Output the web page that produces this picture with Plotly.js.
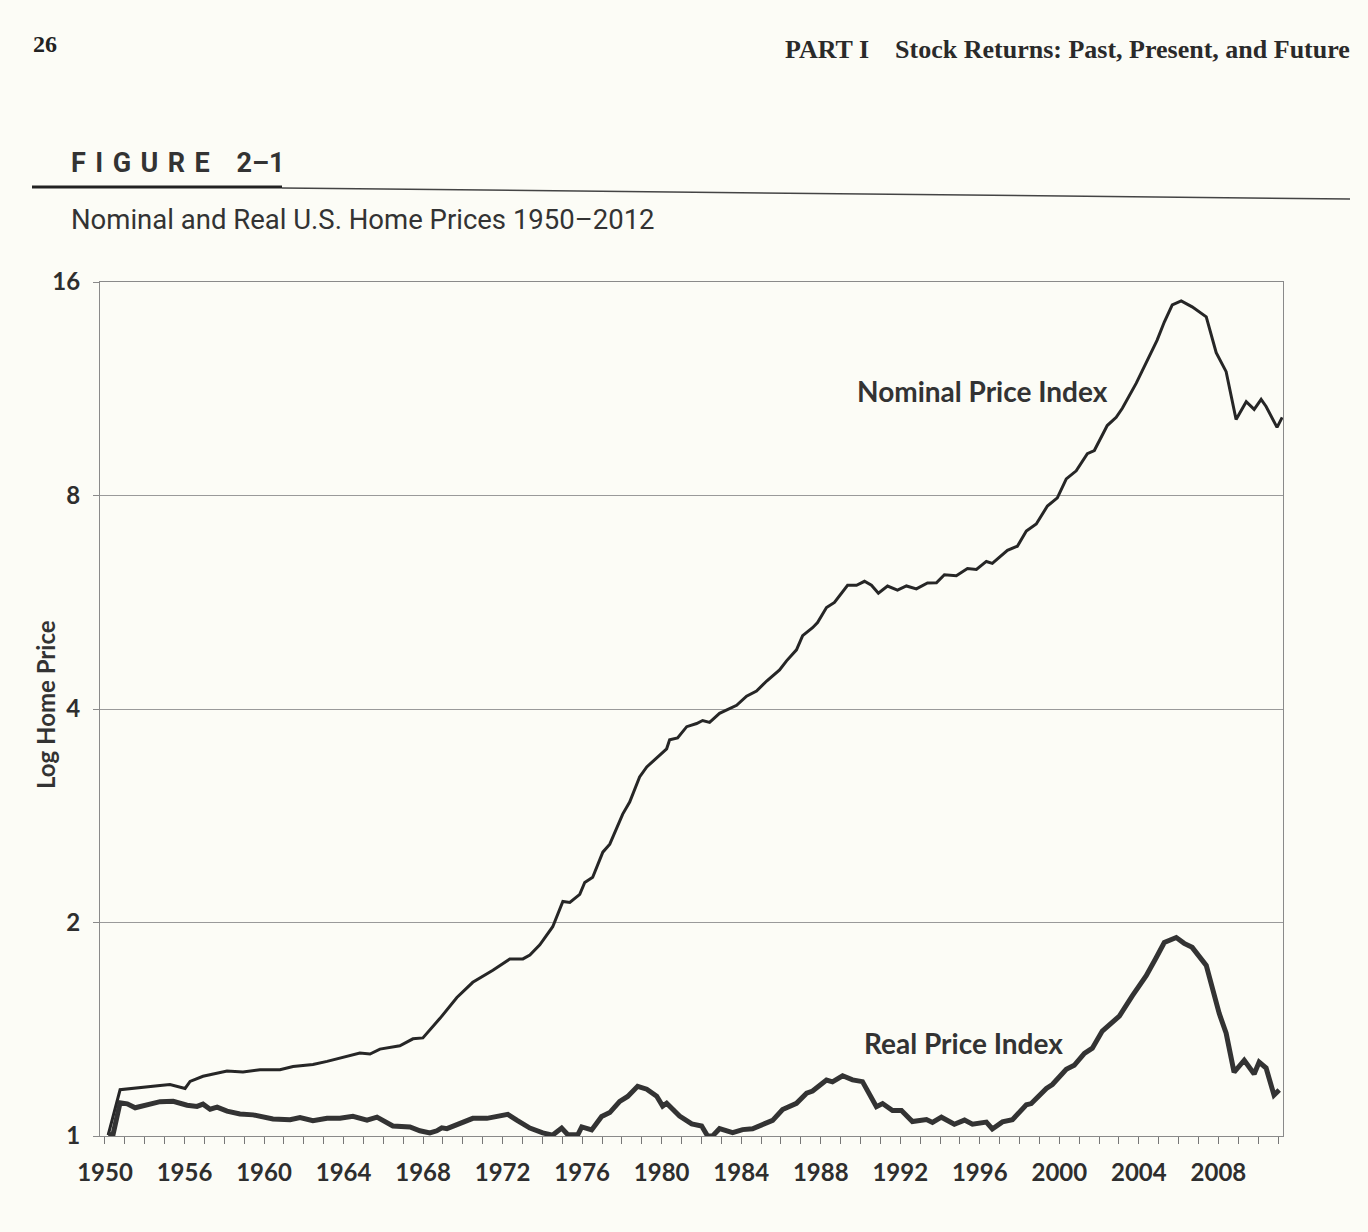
<!DOCTYPE html>
<html>
<head>
<meta charset="utf-8">
<script src="https://cdn.plot.ly/plotly-3.0.1.min.js"></script>
<style>
html,body{margin:0;padding:0;background:#fcfcf6;}
#chart{width:1368px;height:1232px;}
</style>
</head>
<body>
<div id="chart"></div>
<script>
// ---- data ----
const nominalYears = [1952.16,1952.76,1954.77,1955.27,1956.03,1956.28,1956.93,1958.14,1958.94,1959.80,1960.80,1961.46,1962.46,1963.17,1964.82,1965.33,1965.83,1966.83,1967.49,1967.99,1968.84,1969.70,1970.50,1971.51,1972.36,1973.02,1973.37,1973.87,1974.52,1975.03,1975.38,1975.88,1976.13,1976.53,1977.04,1977.39,1978.04,1978.39,1978.89,1979.25,1980.25,1980.40,1980.80,1981.26,1981.76,1982.06,1982.41,1982.91,1983.77,1984.27,1984.77,1985.28,1985.93,1986.28,1986.78,1987.09,1987.59,1987.84,1988.29,1988.69,1989.35,1989.80,1990.20,1990.55,1990.90,1991.36,1991.86,1992.31,1992.81,1993.37,1993.82,1994.22,1994.82,1995.38,1995.83,1996.33,1996.63,1997.39,1997.89,1998.34,1998.84,1999.40,1999.90,2000.35,2000.85,2001.41,2001.76,2002.41,2002.86,2003.17,2003.87,2004.37,2004.92,2005.28,2005.68,2006.13,2006.68,2007.39,2007.89,2008.39,2008.89,2009.40,2009.80,2010.15,2010.40,2010.95,2011.21];
const nominalIndex = [1.003,1.162,1.178,1.182,1.167,1.194,1.214,1.235,1.231,1.240,1.240,1.253,1.261,1.274,1.309,1.305,1.326,1.340,1.371,1.375,1.464,1.568,1.647,1.713,1.776,1.777,1.800,1.860,1.973,2.141,2.134,2.191,2.278,2.316,2.513,2.579,2.844,2.957,3.208,3.314,3.515,3.619,3.642,3.777,3.816,3.853,3.830,3.944,4.048,4.170,4.240,4.380,4.541,4.677,4.847,5.075,5.208,5.295,5.560,5.653,5.976,5.976,6.055,5.978,5.826,5.962,5.885,5.964,5.908,6.024,6.026,6.185,6.167,6.311,6.293,6.458,6.418,6.697,6.785,7.127,7.293,7.732,7.938,8.445,8.668,9.165,9.257,10.04,10.31,10.62,11.52,12.29,13.25,14.05,14.85,15.05,14.76,14.29,12.72,11.96,10.24,10.85,10.58,10.93,10.68,9.98,10.31];

const realYears = [1952.16,1952.41,1952.76,1953.12,1953.52,1954.12,1954.77,1955.43,1956.13,1956.63,1956.93,1957.29,1957.64,1958.14,1958.79,1959.45,1960.45,1961.31,1961.81,1962.46,1963.17,1963.82,1964.47,1965.18,1965.68,1966.48,1967.34,1967.84,1968.34,1968.69,1968.94,1969.20,1969.85,1970.50,1971.21,1971.86,1972.26,1972.71,1973.37,1974.02,1974.52,1974.97,1975.28,1975.78,1975.98,1976.48,1976.98,1977.39,1977.89,1978.29,1978.79,1979.25,1979.75,1980.05,1980.25,1980.90,1981.51,1982.01,1982.31,1982.56,1982.91,1983.57,1984.07,1984.57,1985.58,1986.08,1986.78,1987.29,1987.59,1988.29,1988.59,1989.10,1989.60,1990.10,1990.80,1991.11,1991.61,1992.06,1992.61,1993.32,1993.62,1994.07,1994.72,1995.23,1995.63,1996.33,1996.63,1997.14,1997.64,1998.34,1998.59,1999.35,1999.65,2000.35,2000.75,2001.26,2001.66,2002.16,2002.76,2003.02,2003.67,2004.37,2004.87,2005.28,2005.88,2006.28,2006.68,2007.39,2008.04,2008.39,2008.79,2009.30,2009.80,2010.05,2010.40,2010.80,2011.06];
const realIndex = [1.003,1.006,1.114,1.110,1.096,1.107,1.118,1.119,1.105,1.101,1.109,1.091,1.098,1.084,1.074,1.071,1.057,1.054,1.062,1.051,1.059,1.059,1.066,1.053,1.063,1.033,1.030,1.017,1.010,1.017,1.027,1.024,1.041,1.059,1.059,1.070,1.073,1.053,1.026,1.010,1.003,1.026,1.004,1.004,1.030,1.020,1.065,1.079,1.119,1.137,1.175,1.164,1.138,1.102,1.112,1.067,1.040,1.033,1.000,1.000,1.024,1.011,1.021,1.024,1.052,1.090,1.112,1.149,1.157,1.199,1.192,1.216,1.200,1.193,1.100,1.111,1.086,1.086,1.048,1.055,1.045,1.063,1.039,1.053,1.039,1.046,1.023,1.047,1.054,1.107,1.111,1.167,1.182,1.242,1.258,1.308,1.330,1.406,1.453,1.476,1.576,1.683,1.784,1.874,1.905,1.869,1.845,1.740,1.489,1.396,1.230,1.279,1.223,1.271,1.247,1.142,1.161];

// tick labels as printed on the axis
const xTickVals = [1952,1956,1960,1964,1968,1972,1976,1980,1984,1988,1992,1996,2000,2004,2008];
const xTickText = ["1950","1956","1960","1964","1968","1972","1976","1980","1984","1988","1992","1996","2000","2004","2008"];
const yTickVals = [1,2,4,8,16];
const yTickText = ["1","2","4","8","16"];

// ---- layout helpers (plot area: x 100..1283, y 282..1136) ----
const L = 100, R = 1283, T = 282, B = 1136;
const px = v => (v - L) / (R - L);
const py = v => (B - v) / (B - T);

const sansBold = {family: 'Lato, "Open Sans", sans-serif', size: 24, color: '#2e2e2e', weight: 700};

const traces = [
  {x: nominalYears, y: nominalIndex, type: 'scatter', mode: 'lines',
   line: {color: '#262626', width: 3}, name: 'Nominal Price Index', hoverinfo: 'x+y'},
  {x: realYears, y: realIndex, type: 'scatter', mode: 'lines',
   line: {color: '#333333', width: 5}, name: 'Real Price Index', hoverinfo: 'x+y'}
];

const sp = '\u00A0\u200A';
const figLabel = ['F', 'I', 'G', 'U', 'R', 'E'].join(sp) + '\u00A0\u00A0\u00A0\u00A0' + '2–1';
const layout = {
  width: 1368, height: 1232,
  paper_bgcolor: '#fcfcf6', plot_bgcolor: '#fcfcf6',
  margin: {l: L, r: 1368 - R, t: T, b: 1232 - B},
  showlegend: false,
  xaxis: {
    range: [1951.75, 2011.25], tickmode: 'array', tickvals: xTickVals, ticktext: xTickText,
    ticks: 'outside', ticklen: 7, tickcolor: '#777', tickwidth: 1,
    minor: {tickmode: 'linear', tick0: 1952, dtick: 1, ticks: 'outside', ticklen: 7, tickcolor: '#777', showgrid: false},
    showgrid: false, zeroline: false,
    showline: true, linecolor: '#8a8a8a', linewidth: 1, mirror: true,
    tickfont: sansBold, ticklabelstandoff: 8
  },
  yaxis: {
    type: 'log', range: [0, Math.log10(16)],
    tickmode: 'array', tickvals: yTickVals, ticktext: yTickText,
    ticks: 'outside', ticklen: 6, tickcolor: '#8a8a8a',
    showgrid: true, gridcolor: '#9a9a9a', gridwidth: 1,
    showline: true, linecolor: '#8a8a8a', linewidth: 1, mirror: true,
    zeroline: false, tickfont: sansBold, ticklabelstandoff: 8
  },
  shapes: [
    {type: 'line', xref: 'paper', yref: 'paper', x0: px(32), x1: px(282), y0: py(187), y1: py(187),
     line: {color: '#222', width: 3}},
    {type: 'line', xref: 'paper', yref: 'paper', x0: px(282), x1: px(1350), y0: py(188), y1: py(199),
     line: {color: '#444', width: 1.5}}
  ],
  annotations: [
    {text: '26', xref: 'paper', yref: 'paper', x: px(31), y: py(44), xanchor: 'left', yanchor: 'middle',
     showarrow: false, font: {family: '"Liberation Serif", serif', size: 24, color: '#222', weight: 700}},
    {text: 'PART I\u00A0\u00A0\u00A0\u00A0Stock Returns: Past, Present, and Future', xref: 'paper', yref: 'paper',
     x: px(1352), y: py(50), xanchor: 'right', yanchor: 'middle', showarrow: false,
     font: {family: '"Liberation Serif", serif', size: 26, color: '#2a2a2a', weight: 700}},
    {text: figLabel, xref: 'paper', yref: 'paper',
     x: px(69), y: py(163), xanchor: 'left', yanchor: 'middle', showarrow: false,
     font: {family: '"Liberation Sans Narrow", "Roboto", sans-serif', size: 27, color: '#333', weight: 700}},
    {text: 'Nominal and Real U.S. Home Prices 1950–2012', xref: 'paper', yref: 'paper',
     x: px(69), y: py(219), xanchor: 'left', yanchor: 'middle', showarrow: false,
     font: {family: '"Liberation Sans Narrow", "Roboto", sans-serif', size: 27.5, color: '#333'}},
    {text: 'Nominal Price Index', xref: 'paper', yref: 'paper', x: px(982), y: py(391),
     xanchor: 'center', yanchor: 'middle', showarrow: false,
     font: {family: 'Lato, "Open Sans", sans-serif', size: 28, color: '#333', weight: 700}},
    {text: 'Real Price Index', xref: 'paper', yref: 'paper', x: px(963), y: py(1043),
     xanchor: 'center', yanchor: 'middle', showarrow: false,
     font: {family: 'Lato, "Open Sans", sans-serif', size: 28, color: '#333', weight: 700}},
    {text: 'Log Home Price', xref: 'paper', yref: 'paper', x: px(45), y: py(705),
     xanchor: 'center', yanchor: 'middle', textangle: -90, showarrow: false,
     font: {family: 'Lato, "Open Sans", sans-serif', size: 24, color: '#333', weight: 700}}
  ]
};

Plotly.newPlot('chart', traces, layout, {staticPlot: true, displayModeBar: false});
</script>
</body>
</html>
